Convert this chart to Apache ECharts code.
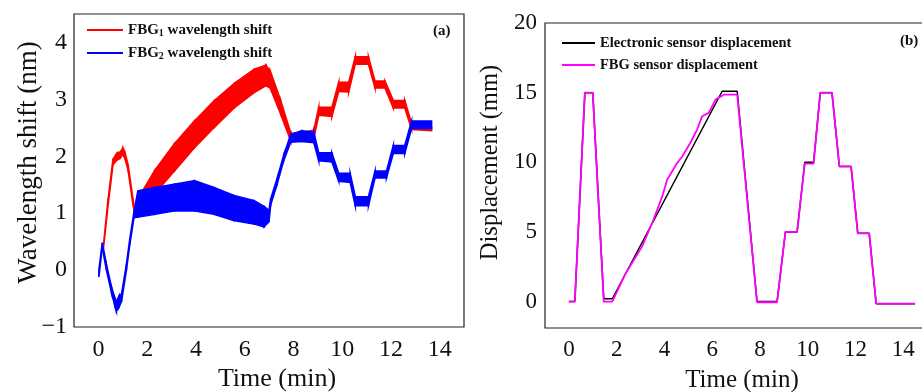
<!DOCTYPE html>
<html>
<head>
<meta charset="utf-8">
<script src="https://cdn.jsdelivr.net/npm/echarts@6/dist/echarts.min.js"></script>
<style>html,body{margin:0;padding:0;background:#fff;}#c{width:922px;height:392px;}</style>
</head>
<body>
<div id="c"></div>
<script>
// ---- Panel (a): wavelength shift, noisy bands given as lower/upper envelopes ----
const fbg1Time = [0.20,0.40,0.60,0.75,0.90,1.00,1.10,1.22,1.42,1.48,1.60,1.90,2.31,3.12,3.94,4.76,5.57,6.39,6.87,7.05,7.48,7.90,8.30,8.84,9.04,9.58,9.86,10.27,10.54,11.08,11.35,11.76,12.10,12.57,12.85,13.67];
const fbg1Low  = [0.35,1.15,1.85,1.93,1.97,2.03,1.95,1.75,1.15,1.02,1.05,1.15,1.34,1.74,2.15,2.51,2.85,3.12,3.24,3.20,2.74,2.26,2.28,2.32,2.72,2.70,3.14,3.13,3.62,3.62,3.20,3.20,2.85,2.85,2.47,2.45];
const fbg1High = [0.40,1.25,1.95,2.05,2.08,2.14,2.05,1.85,1.25,1.08,1.28,1.45,1.75,2.22,2.62,2.98,3.28,3.53,3.60,3.50,2.98,2.40,2.42,2.46,2.86,2.86,3.30,3.30,3.75,3.75,3.32,3.32,2.98,2.98,2.58,2.51];

const fbg2Time = [0.02,0.16,0.33,0.54,0.67,0.74,0.85,0.95,1.15,1.29,1.46,1.62,2.31,3.12,3.94,4.76,5.57,6.39,6.80,7.00,7.07,7.34,7.61,7.89,8.35,8.84,9.04,9.58,9.86,10.33,10.54,11.08,11.35,11.82,12.10,12.57,12.85,13.67];
const fbg2Low  = [-0.12,0.40,0.00,-0.40,-0.62,-0.72,-0.65,-0.55,0.00,0.45,0.92,0.93,0.98,1.04,1.04,0.98,0.87,0.81,0.76,0.85,1.15,1.52,1.93,2.25,2.26,2.24,1.92,1.90,1.56,1.54,1.13,1.13,1.62,1.62,2.05,2.05,2.49,2.49];
const fbg2High = [0.00,0.48,0.10,-0.30,-0.48,-0.55,-0.45,-0.42,0.10,0.55,1.02,1.39,1.45,1.51,1.57,1.45,1.31,1.22,1.12,1.05,1.25,1.62,2.03,2.38,2.45,2.42,2.06,2.06,1.70,1.70,1.29,1.29,1.74,1.74,2.19,2.19,2.62,2.62];

const axisTicksA_X = [0,2,4,6,8,10,12,14];
const axisTicksA_Y = [-1,0,1,2,3,4];

// ---- Panel (b): displacement ----
const elecTime = [0,0.25,0.67,1.00,1.46,1.82,6.42,7.05,7.88,8.72,9.07,9.56,9.88,10.25,10.53,11.02,11.33,11.82,12.10,12.58,12.87,14.50];
const elecDisp = [0,0,15,15,0.2,0.2,15.1,15.1,0,0,5,5,10,10,15,15,9.7,9.7,4.9,4.9,-0.15,-0.15];

const fbgTime = [0,0.25,0.67,1.00,1.46,1.82,2.37,3.07,3.49,3.91,4.12,4.54,4.74,5.09,5.37,5.58,5.86,6.14,6.49,7.05,7.88,8.72,9.07,9.56,9.88,10.25,10.53,11.02,11.33,11.82,12.10,12.58,12.87,14.50];
const fbgDisp = [0,0,15,15,0,0,2.0,3.96,5.64,7.55,8.76,9.96,10.4,11.4,12.35,13.3,13.55,14.5,14.85,14.85,-0.05,-0.05,5,5,9.9,9.9,15,15,9.7,9.7,4.9,4.9,-0.15,-0.15];

const axisTicksB_X = [0,2,4,6,8,10,12,14];
const axisTicksB_Y = [0,5,10,15,20];

const FONT = "'Liberation Serif','Times New Roman',serif";

function bandSeries(name, color, ts, lo, hi) {
  const data = ts.map((t, i) => [t, lo[i], hi[i]]);
  return {
    type: 'custom', name: name, xAxisIndex: 0, yAxisIndex: 0,
    itemStyle: { color: color },
    encode: { x: 0, y: [1, 2] },
    renderItem: function (params, api) {
      const i = params.dataIndexInside;
      if (i >= params.dataInsideLength - 1) return null;
      const pts = [
        api.coord([api.value(0, i), api.value(1, i)]),
        api.coord([api.value(0, i), api.value(2, i)]),
        api.coord([api.value(0, i + 1), api.value(2, i + 1)]),
        api.coord([api.value(0, i + 1), api.value(1, i + 1)])
      ];
      return { type: 'polygon', shape: { points: pts }, style: { fill: color, stroke: color, lineWidth: 1.6 } };
    },
    data: data
  };
}

function minusFmt(v) { return v < 0 ? '\u2212' + Math.abs(v) : String(v); }

const tickLabel = (vals, size, margin) => ({
  customValues: vals, fontSize: size, fontFamily: FONT, color: '#111', margin: margin, formatter: minusFmt
});

const chart = echarts.init(document.getElementById('c'), null, { renderer: 'canvas' });
chart.setOption({
  animation: false,
  backgroundColor: '#fff',
  title: [
    { text: '(a)', left: 433, top: 24, padding: 0, textStyle: { fontFamily: FONT, fontWeight: 'bold', fontSize: 15, color: '#111' } },
    { text: '(b)', left: 900, top: 34, padding: 0, textStyle: { fontFamily: FONT, fontWeight: 'bold', fontSize: 15, color: '#111' } }
  ],
  legend: [
    {
      orient: 'vertical', left: 87, top: 22, padding: 0, itemWidth: 36, itemHeight: 2, itemGap: 7, icon: 'rect',
      data: ['FBG1 wavelength shift', 'FBG2 wavelength shift'],
      formatter: function (n) {
        return n.indexOf('FBG1') === 0 ? '{b|FBG}{s|1}{b| wavelength shift}' : '{b|FBG}{s|2}{b| wavelength shift}';
      },
      textStyle: {
        fontFamily: FONT, fontWeight: 'bold', fontSize: 15, color: '#111', lineHeight: 16,
        rich: {
          b: { fontFamily: FONT, fontWeight: 'bold', fontSize: 15, color: '#111', lineHeight: 16 },
          s: { fontFamily: FONT, fontWeight: 'bold', fontSize: 10, color: '#111', lineHeight: 16, verticalAlign: 'bottom' }
        }
      }
    },
    {
      orient: 'vertical', left: 562, top: 35, padding: 0, itemWidth: 33, itemHeight: 2, itemGap: 6, icon: 'rect',
      data: ['Electronic sensor displacement', 'FBG sensor displacement'],
      textStyle: { fontFamily: FONT, fontWeight: 'bold', fontSize: 14.5, color: '#111', lineHeight: 16 }
    }
  ],
  grid: [
    { left: 74, right: 458, top: 14, bottom: 65, outerBoundsMode: 'none', containLabel: false, show: true, borderColor: '#222', borderWidth: 1.2, backgroundColor: 'transparent' },
    { left: 545, right: -5, top: 23, bottom: 64, outerBoundsMode: 'none', containLabel: false, show: true, borderColor: '#222', borderWidth: 1.2, backgroundColor: 'transparent' }
  ],
  xAxis: [
    {
      type: 'value', gridIndex: 0, min: -1, max: 15,
      axisLine: { show: false }, axisTick: { show: false }, splitLine: { show: false },
      axisLabel: tickLabel(axisTicksA_X, 24, 11),
      name: 'Time (min)', nameLocation: 'middle', nameGap: 39, nameMoveOverlap: false,
      nameTextStyle: { fontFamily: FONT, fontSize: 26, color: '#111', padding: [0, 0, 0, 16] }
    },
    {
      type: 'value', gridIndex: 1, min: -1, max: 15,
      axisLine: { show: false }, axisTick: { show: false }, splitLine: { show: false },
      axisLabel: tickLabel(axisTicksB_X, 23, 10),
      name: 'Time (min)', nameLocation: 'middle', nameGap: 40, nameMoveOverlap: false,
      nameTextStyle: { fontFamily: FONT, fontSize: 25, color: '#111', padding: [0, 0, 0, 12] }
    }
  ],
  yAxis: [
    {
      type: 'value', gridIndex: 0, min: -1, max: 4.5,
      axisLine: { show: false }, axisTick: { show: false }, splitLine: { show: false },
      axisLabel: tickLabel(axisTicksA_Y, 24, 7),
      name: 'Wavelength shift (nm)', nameLocation: 'middle', nameGap: 32, nameMoveOverlap: false,
      nameTextStyle: { fontFamily: FONT, fontSize: 27, color: '#111', padding: [0, 0, 0, 16] }
    },
    {
      type: 'value', gridIndex: 1, min: -1.9, max: 20,
      axisLine: { show: false }, axisTick: { show: false }, splitLine: { show: false },
      axisLabel: tickLabel(axisTicksB_Y, 23, 8),
      name: 'Displacement (mm)', nameLocation: 'middle', nameGap: 42, nameMoveOverlap: false,
      nameTextStyle: { fontFamily: FONT, fontSize: 24.5, color: '#111', padding: [0, 0, 0, 26] }
    }
  ],
  series: [
    bandSeries('FBG1 wavelength shift', '#ff0000', fbg1Time, fbg1Low, fbg1High),
    bandSeries('FBG2 wavelength shift', '#0000ff', fbg2Time, fbg2Low, fbg2High),
    {
      type: 'line', name: 'Electronic sensor displacement', xAxisIndex: 1, yAxisIndex: 1,
      showSymbol: false, symbol: 'none', color: '#000',
      lineStyle: { color: '#000', width: 1.5 },
      data: elecTime.map((t, i) => [t, elecDisp[i]])
    },
    {
      type: 'line', name: 'FBG sensor displacement', xAxisIndex: 1, yAxisIndex: 1,
      showSymbol: false, symbol: 'none', color: '#ff00ff',
      lineStyle: { color: '#ff00ff', width: 1.8 },
      data: fbgTime.map((t, i) => [t, fbgDisp[i]])
    }
  ]
});
</script>
</body>
</html>
